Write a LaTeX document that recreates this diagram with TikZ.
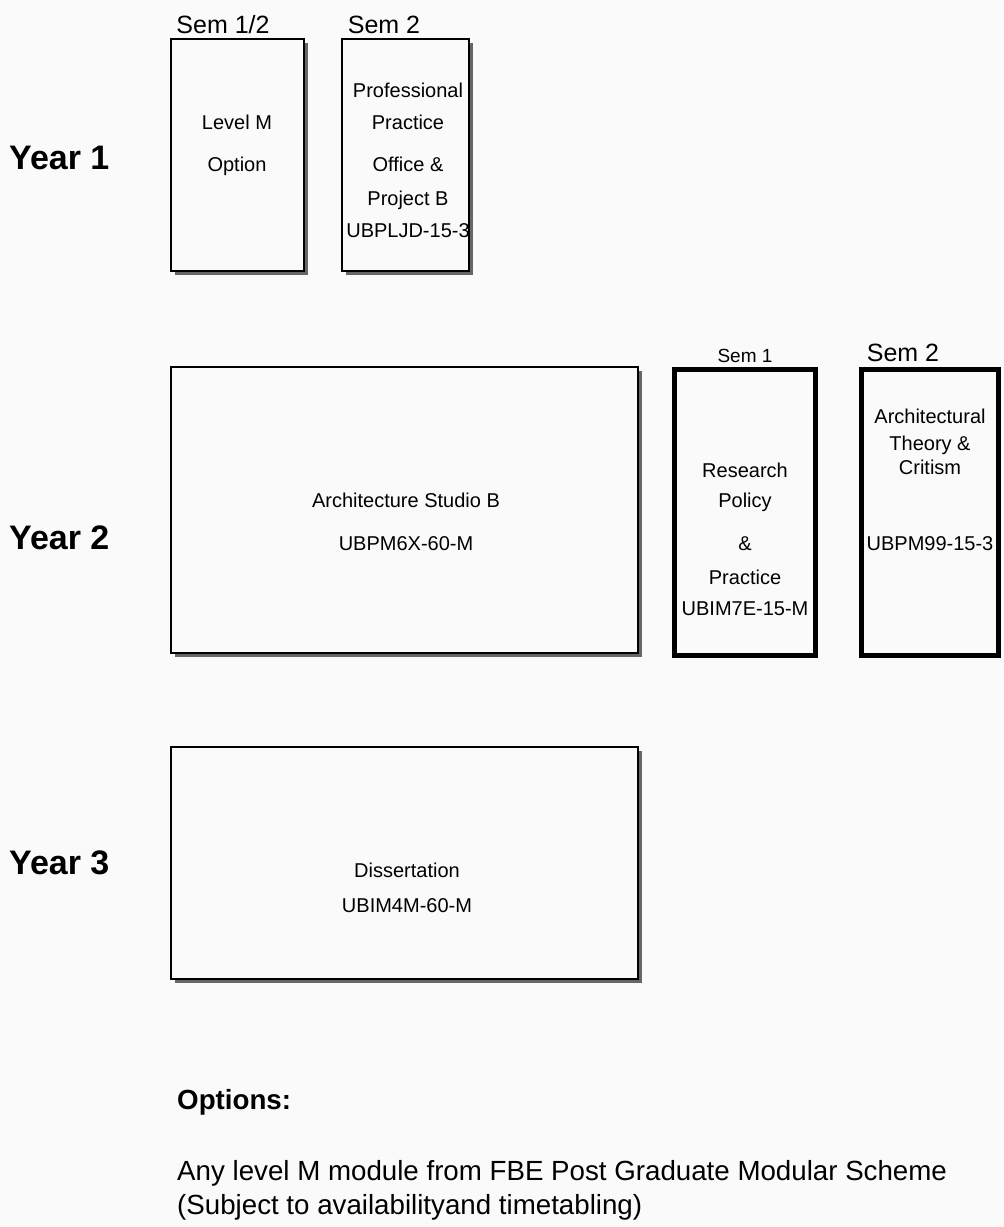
\documentclass[tikz,border=0pt]{standalone}
\usepackage{fontspec}
\setmainfont{Liberation Sans}
\usetikzlibrary{shadows}
\definecolor{bgc}{RGB}{250,250,250}
\tikzset{
  thinbox/.style={draw=black, line width=1.6pt, fill=bgc, rectangle, inner sep=0pt,
    drop shadow={shadow xshift=3.5pt, shadow yshift=-3.5pt, fill=black!60, opacity=1}},
  thickbox/.style={draw=black, line width=5pt, fill=bgc, rectangle, inner sep=0pt},
  t20/.style={anchor=base, inner sep=0pt, font=\fontsize{20}{24}\selectfont},
  semlbl/.style={anchor=base, inner sep=0pt, font=\fontsize{25}{30}\selectfont},
  semsmall/.style={anchor=base, inner sep=0pt, font=\fontsize{19}{23}\selectfont},
  yearlbl/.style={anchor=base west, inner sep=0pt, font=\fontsize{34}{40}\selectfont\bfseries},
  opthead/.style={anchor=base west, inner sep=0pt, font=\fontsize{27.7}{33}\selectfont\bfseries},
  opttext/.style={anchor=base west, inner sep=0pt, font=\fontsize{27.7}{33}\selectfont},
}
\begin{document}
\begin{tikzpicture}[x=1pt,y=-1pt]
\fill[bgc] (0,0) rectangle (1004,1227);
\useasboundingbox (0,0) rectangle (1004,1227);

% Year labels
\node[yearlbl] (y1) at (9,169) {Year 1};
\node[yearlbl] (y2) at (9,549) {Year 2};
\node[yearlbl] (y3) at (9,874) {Year 3};

% Year 1 boxes
\node[thinbox, minimum width=133pt, minimum height=232pt] (b1) at (237.5,155) {};
\node[thinbox, minimum width=127pt, minimum height=232pt] (b2) at (405.5,155) {};
\node[semlbl] (s12) at (223,33) {Sem 1/2};
\node[semlbl] (s2a) at (384,33) {Sem 2};

\node[t20] (b1a) at (237,129) {Level M};
\node[t20] (b1b) at (237,171) {Option};

\node[t20] (b2a) at (408,97) {Professional};
\node[t20] (b2b) at (408,129) {Practice};
\node[t20] (b2c) at (408,171) {Office \&};
\node[t20] (b2d) at (408,205) {Project B};
\node[t20] (b2e) at (408,237) {UBPLJD-15-3};

% Year 2 boxes
\node[thinbox, minimum width=467pt, minimum height=286pt] (st) at (404.5,510) {};
\node[t20] (sta) at (406,507) {Architecture Studio B};
\node[t20] (stb) at (406,550) {UBPM6X-60-M};

\node[thickbox, minimum width=141pt, minimum height=286pt] (rp) at (745,512.5) {};
\node[semsmall] (s1) at (745,362) {Sem 1};
\node[t20] (rpa) at (745,477) {Research};
\node[t20] (rpb) at (745,507) {Policy};
\node[t20] (rpc) at (745,550) {\&};
\node[t20] (rpd) at (745,584) {Practice};
\node[t20] (rpe) at (745,615) {UBIM7E-15-M};

\node[thickbox, minimum width=137pt, minimum height=286pt] (at) at (930,512.5) {};
\node[semlbl] (s2b) at (903,361) {Sem 2};
\node[t20] (ata) at (930,423) {Architectural};
\node[t20] (atb) at (930,450) {Theory \&};
\node[t20] (atc) at (930,474) {Critism};
\node[t20] (atd) at (930,550) {UBPM99-15-3};

% Year 3 box
\node[thinbox, minimum width=467pt, minimum height=232pt] (ds) at (404.5,863) {};
\node[t20] (dsa) at (407,877) {Dissertation};
\node[t20] (dsb) at (407,912) {UBIM4M-60-M};

% Options
\node[opthead] (oh) at (177,1109) {Options:};
\node[opttext] (o1) at (177,1180) {Any level M module from FBE Post Graduate Modular Scheme};
\node[opttext] (o2) at (177,1214) {(Subject to availabilityand timetabling)};
\end{tikzpicture}
\end{document}
